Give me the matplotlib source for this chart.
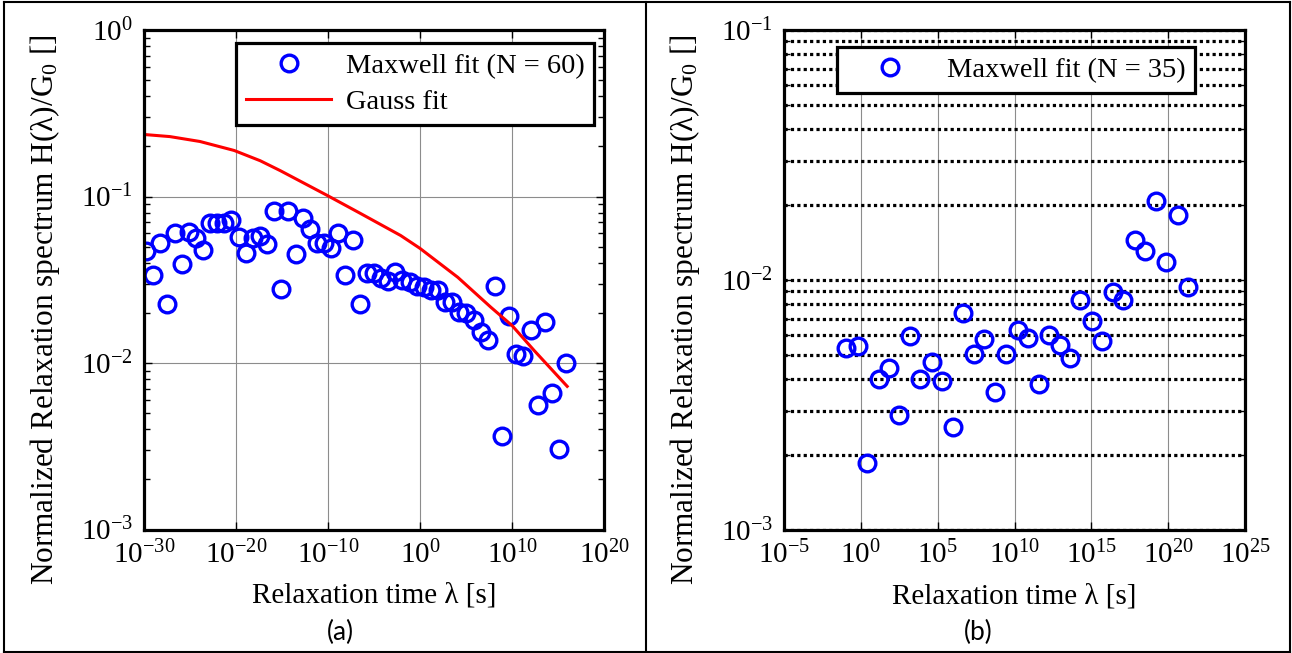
import numpy as np
import matplotlib
matplotlib.use('Agg')
import matplotlib.pyplot as plt
from matplotlib.ticker import FixedLocator, FuncFormatter, NullLocator, LogLocator
from matplotlib.lines import Line2D

# ---------------- data (panel a) ----------------
lam_a_exp = [-29.78, -29.01, -28.23, -27.46, -26.68, -25.91, -25.14, -24.36, -23.59, -22.81,
             -22.04, -21.27, -20.49, -19.72, -18.94, -18.17, -17.40, -16.62, -15.85, -15.07,
             -14.30, -13.53, -12.75, -11.98, -11.20, -10.43, -9.66, -8.88, -8.11, -7.33,
             -6.56, -5.79, -5.01, -4.24, -3.46, -2.69, -1.92, -1.14, -0.37, 0.41,
             1.18, 1.95, 2.73, 3.50, 4.28, 5.05, 5.82, 6.60, 7.37, 8.15,
             8.92, 9.69, 10.47, 11.24, 12.02, 12.79, 13.56, 14.34, 15.11, 15.88]
H_a = [0.0468, 0.0340, 0.0525, 0.0225, 0.0605, 0.0391, 0.0608, 0.0562, 0.0479, 0.0695,
       0.0695, 0.0695, 0.0725, 0.0575, 0.0457, 0.0565, 0.0578, 0.0515, 0.0813, 0.0279,
       0.0813, 0.0449, 0.0741, 0.0634, 0.0527, 0.0525, 0.0490, 0.0605, 0.0340, 0.0550,
       0.0225, 0.0347, 0.0347, 0.0325, 0.0309, 0.0352, 0.0313, 0.0306, 0.0292, 0.0288,
       0.0273, 0.0275, 0.0232, 0.0233, 0.0202, 0.0199, 0.0180, 0.0153, 0.0137, 0.0292,
       0.00365, 0.0191, 0.0114, 0.0110, 0.0157, 0.00557, 0.0176, 0.00661, 0.00305, 0.0100]
gauss_exp = [-29.69, -27.19, -23.92, -20.2, -17.37, -15.19, -10.07, -6.47, -2.10, 0.0,
             4.11, 7.71, 10.0, 12.4, 16.0]
gauss_H = [0.235, 0.229, 0.214, 0.189, 0.164, 0.143, 0.1014, 0.0791, 0.0583, 0.0488,
           0.0327, 0.0216, 0.0168, 0.0119, 0.00724]

# ---------------- data (panel b) ----------------
lam_b_exp = [-0.99, -0.20, 0.42, 1.17, 1.82, 2.47, 3.19, 3.88, 4.64, 5.25,
             6.01, 6.66, 7.39, 8.04, 8.76, 9.47, 10.21, 10.86, 11.62, 12.27,
             12.98, 13.63, 14.28, 15.05, 15.70, 16.41, 17.06, 17.82, 18.47, 19.21,
             19.86, 20.61, 21.26]
H_b = [0.00535, 0.00543, 0.00185, 0.00400, 0.00445, 0.00288, 0.00596, 0.00400, 0.00469, 0.00394,
       0.00259, 0.00738, 0.00504, 0.00581, 0.00356, 0.00504, 0.00633, 0.00586, 0.00385, 0.00604,
       0.00552, 0.00489, 0.00828, 0.00683, 0.00569, 0.00898, 0.00828, 0.01452, 0.01309, 0.02061,
       0.01175, 0.01824, 0.00940]

xticks_a = [1e-30, 1e-20, 1e-10, 1e0, 1e10, 1e20]
xticks_b = [1e-5, 1e0, 1e5, 1e10, 1e15, 1e20, 1e25]

label_a = 'Maxwell fit (N = 60)'
label_gauss = 'Gauss fit'
label_b = 'Maxwell fit (N = 35)'
xlabel = 'Relaxation time λ [s]'
ylabel = r'Normalized Relaxation spectrum H(λ)/G$_\mathregular{0}$ []'

# ---------------- style ----------------
plt.rcParams['font.family'] = ['Liberation Serif', 'DejaVu Serif']
plt.rcParams['mathtext.fontset'] = 'custom'
plt.rcParams['mathtext.rm'] = 'Liberation Serif'
plt.rcParams['mathtext.it'] = 'Liberation Serif:italic'
plt.rcParams['axes.unicode_minus'] = False

W, Hh = 1292, 653
fig = plt.figure(figsize=(W / 100, Hh / 100), dpi=100)


def box(l, r, t, b):
    return [l / W, 1 - b / Hh, (r - l) / W, (b - t) / Hh]


axa = fig.add_axes(box(144, 604, 30, 529.5))
axb = fig.add_axes(box(784, 1245, 30, 530))

fmt = FuncFormatter(lambda v, p: r'$\mathregular{10^{%d}}$' % int(round(np.log10(v))))

blue = '#0000ff'
for ax in (axa, axb):
    ax.set_xscale('log')
    ax.set_yscale('log')
    for s in ax.spines.values():
        s.set_linewidth(2.3)
    ax.tick_params(which='both', direction='in', top=True, right=True, labelsize=21, pad=8)
    ax.tick_params(which='major', length=6, width=1)
    ax.tick_params(which='minor', length=4, width=1)
    ax.xaxis.set_minor_locator(NullLocator())
    ax.yaxis.set_major_locator(LogLocator(base=10, numticks=20))
    ax.yaxis.set_minor_locator(LogLocator(base=10, subs=np.arange(2, 10), numticks=20))
    ax.xaxis.set_major_formatter(fmt)
    ax.yaxis.set_major_formatter(fmt)
    ax.set_axisbelow(True)

# panel a
lam_a = [10.0 ** e for e in lam_a_exp]
lam_g = [10.0 ** e for e in gauss_exp]
axa.set_xlim(1e-30, 1e20)
axa.set_ylim(1e-3, 1e0)
axa.xaxis.set_major_locator(FixedLocator(xticks_a))
axa.grid(True, which='major', color='#8c8c8c', lw=0.8, ls='-')
ha, = axa.plot(lam_a, H_a, 'o', mfc='none', mec=blue, ms=12, mew=2.4, ls='none', label=label_a)
hg, = axa.plot(lam_g, gauss_H, '-', color='#ff0000', lw=2.2, label=label_gauss)
axa.set_xlabel(xlabel, fontsize=21)
axa.set_ylabel(ylabel, fontsize=22.5)
axa.xaxis.set_label_coords(0.5, -0.107)
axa.yaxis.set_label_coords(-0.178, 0.44)
leg = axa.legend(handles=[ha, hg], loc='upper left', bbox_to_anchor=(0.2, 0.974),
                 borderaxespad=0, fontsize=20.5, frameon=True, fancybox=False,
                 edgecolor='k', framealpha=1, handlelength=3.0, handletextpad=0.5,
                 borderpad=0.35, labelspacing=0.35)
leg.get_frame().set_linewidth(2.3)

# panel b
lam_b = [10.0 ** e for e in lam_b_exp]
axb.set_xlim(1e-5, 1e25)
axb.set_ylim(1e-3, 1e-1)
axb.xaxis.set_major_locator(FixedLocator(xticks_b))
axb.xaxis.grid(True, which='major', color='#8c8c8c', lw=0.8, ls='-')
axb.yaxis.grid(True, which='both', color='k', lw=2.3, ls=(0, (1, 1)))
hb, = axb.plot(lam_b, H_b, 'o', mfc='none', mec=blue, ms=12, mew=2.4, ls='none', label=label_b)
axb.set_xlabel(xlabel, fontsize=21)
axb.set_ylabel(ylabel, fontsize=22.5)
axb.xaxis.set_label_coords(0.5, -0.107)
axb.yaxis.set_label_coords(-0.178, 0.44)
legb = axb.legend(handles=[hb], loc='upper left', bbox_to_anchor=(0.115, 0.966),
                  borderaxespad=0, fontsize=20.5, frameon=True, fancybox=False,
                  edgecolor='k', framealpha=1, handlelength=3.0, handletextpad=0.5,
                  borderpad=0.35)
legb.get_frame().set_linewidth(2.3)

# table frame around panels
def fline(x0, y0, x1, y1):
    fig.add_artist(Line2D([x0 / W, x1 / W], [1 - y0 / Hh, 1 - y1 / Hh],
                          transform=fig.transFigure, color='k', lw=1.5))

fline(4, 1.5, 1290, 1.5)
fline(4, 651.5, 1290, 651.5)
fline(4, 1.5, 4, 651.5)
fline(646, 1.5, 646, 651.5)
fline(1290, 1.5, 1290, 651.5)

fig.text(340 / W, 1 - 632 / Hh, '(a)', ha='center', va='center', fontsize=19, family=['Lato', 'DejaVu Sans'])
fig.text(978 / W, 1 - 632 / Hh, '(b)', ha='center', va='center', fontsize=19, family=['Lato', 'DejaVu Sans'])

fig.savefig('out.png', dpi=100)
